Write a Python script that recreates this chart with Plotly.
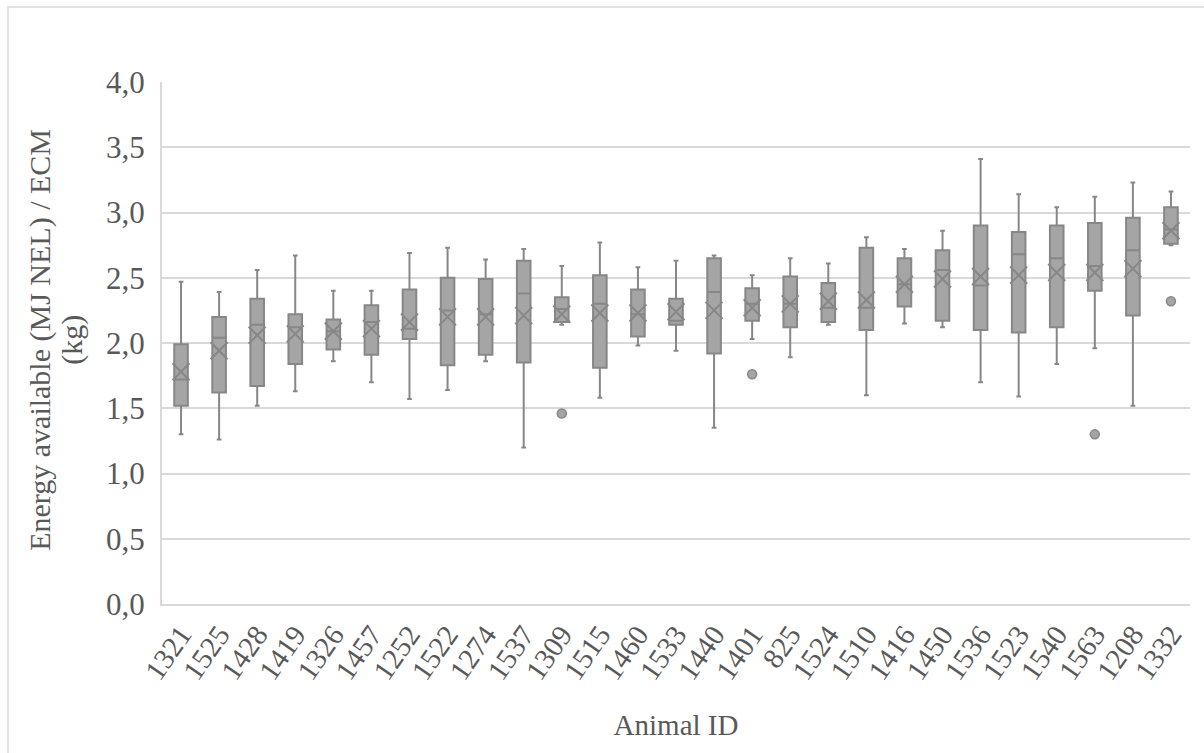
import plotly.graph_objects as go

# Animal IDs in plotting order
animal_ids = ["1321", "1525", "1428", "1419", "1326", "1457", "1252", "1522", "1274",
              "1537", "1309", "1515", "1460", "1533", "1440", "1401", "825", "1524",
              "1510", "1416", "1450", "1536", "1523", "1540", "1563", "1208", "1332"]

# Box statistics (MJ NEL / kg ECM)
lower_whisker = [1.30, 1.26, 1.52, 1.63, 1.86, 1.70, 1.57, 1.64, 1.86,
                 1.20, 2.14, 1.58, 1.98, 1.94, 1.35, 2.03, 1.89, 2.14,
                 1.60, 2.15, 2.12, 1.70, 1.59, 1.84, 1.96, 1.52, 2.75]
q1 = [1.52, 1.62, 1.67, 1.84, 1.95, 1.91, 2.03, 1.83, 1.91,
      1.85, 2.16, 1.81, 2.05, 2.14, 1.92, 2.17, 2.12, 2.16,
      2.10, 2.28, 2.17, 2.10, 2.08, 2.12, 2.40, 2.21, 2.76]
median = [1.72, 2.04, 2.14, 2.12, 2.09, 2.16, 2.11, 2.25, 2.22,
          2.38, 2.26, 2.30, 2.22, 2.17, 2.39, 2.30, 2.30, 2.27,
          2.27, 2.45, 2.56, 2.44, 2.68, 2.65, 2.59, 2.71, 2.87]
q3 = [1.99, 2.20, 2.34, 2.22, 2.18, 2.29, 2.41, 2.50, 2.49,
      2.63, 2.35, 2.52, 2.41, 2.34, 2.65, 2.42, 2.51, 2.46,
      2.73, 2.65, 2.71, 2.90, 2.85, 2.90, 2.92, 2.96, 3.04]
upper_whisker = [2.47, 2.39, 2.56, 2.67, 2.40, 2.40, 2.69, 2.73, 2.64,
                 2.72, 2.59, 2.77, 2.58, 2.63, 2.67, 2.52, 2.65, 2.61,
                 2.81, 2.72, 2.86, 3.41, 3.14, 3.04, 3.12, 3.23, 3.16]
mean = [1.78, 1.94, 2.06, 2.07, 2.09, 2.11, 2.16, 2.20, 2.20,
        2.21, 2.22, 2.23, 2.23, 2.24, 2.25, 2.27, 2.30, 2.32,
        2.33, 2.45, 2.49, 2.51, 2.52, 2.54, 2.54, 2.57, 2.86]

# Outlying observations
outlier_ids = ["1309", "1401", "1563", "1332"]
outlier_values = [1.46, 1.76, 1.30, 2.32]

# Y-axis title, one entry per line
y_title_lines = ["Energy available (MJ NEL) / ECM", "(kg)"]

fill_grey = "#a5a5a5"
line_grey = "#878787"
text_grey = "#595959"
grid_grey = "#d9d9d9"
serif = "Liberation Serif"

fig = go.Figure()

fig.add_trace(go.Box(
    x=animal_ids,
    q1=q1, median=median, q3=q3,
    lowerfence=lower_whisker, upperfence=upper_whisker,
    fillcolor=fill_grey,
    line=dict(color=line_grey, width=2),
    whiskerwidth=0.35,
    boxpoints=False,
    showlegend=False,
    hoverinfo="skip",
))

fig.add_trace(go.Scatter(
    x=animal_ids, y=mean, mode="markers",
    marker=dict(symbol="x-thin-open", size=17, color=line_grey,
                line=dict(color=line_grey, width=2)),
    showlegend=False, hoverinfo="skip",
))

fig.add_trace(go.Scatter(
    x=outlier_ids, y=outlier_values, mode="markers",
    marker=dict(symbol="circle", size=9, color=fill_grey,
                line=dict(color=line_grey, width=1.5)),
    showlegend=False, hoverinfo="skip",
))

# Rotated two-line title for the value axis (tight line spacing)
title_x = [-0.1187, -0.0876]
annotations = [
    dict(text=line, xref="paper", yref="paper", x=xp, y=0.506,
         xanchor="center", yanchor="middle", textangle=-90, showarrow=False,
         font=dict(family=serif, size=30, color=text_grey))
    for line, xp in zip(y_title_lines, title_x)
]

fig.update_layout(
    width=1204, height=753,
    margin=dict(l=162, r=14, t=82, b=149),
    paper_bgcolor="white", plot_bgcolor="white",
    separators=", ",
    boxgap=0.49,
    font=dict(family=serif, color=text_grey),
    xaxis=dict(
        type="category",
        categoryorder="array", categoryarray=animal_ids,
        range=[-0.5, len(animal_ids) - 0.5],
        tickangle=-55,
        tickfont=dict(family=serif, size=29, color=text_grey),
        showline=True, linecolor=grid_grey, linewidth=2,
        showgrid=False, ticks="",
        title=dict(text="Animal ID", font=dict(family=serif, size=29, color=text_grey),
                   standoff=30),
    ),
    yaxis=dict(
        range=[0, 4.0], dtick=0.5, tickformat=".1f",
        tickfont=dict(family=serif, size=31, color=text_grey),
        showgrid=True, gridcolor=grid_grey, gridwidth=1.5,
        showline=True, linecolor=grid_grey, linewidth=2,
        zeroline=False, ticks="", ticklabelstandoff=9,
    ),
    annotations=annotations,
    shapes=[dict(type="rect", xref="paper", yref="paper",
                 x0=-0.1498, x1=1.05, y0=-0.5, y1=1.1437,
                 line=dict(color=grid_grey, width=1.5), fillcolor="rgba(0,0,0,0)",
                 layer="below")],
)

fig.write_html("out.html")
